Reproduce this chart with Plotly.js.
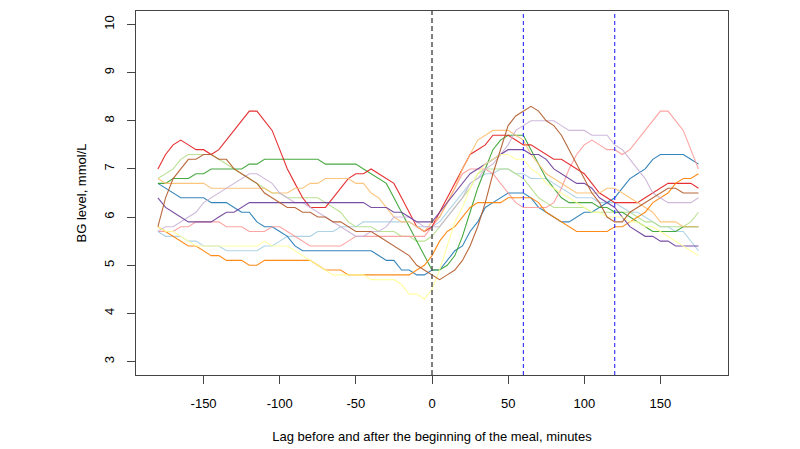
<!DOCTYPE html>
<html>
<head>
<meta charset="utf-8">
<script src="https://cdn.plot.ly/plotly-3.0.1.min.js"></script>
<style>html,body{margin:0;padding:0;background:#fff;}#chart{width:800px;height:449px;}</style>
</head>
<body>
<div id="chart"></div>
<script>
// Lag in minutes (every 5 minutes, from -180 to 175)
const lagMinutes = [
  -180,-175,-170,-165,-160,-155,-150,-145,-140,-135,-130,-125,
  -120,-115,-110,-105,-100,-95,-90,-85,-80,-75,-70,-65,
  -60,-55,-50,-45,-40,-35,-30,-25,-20,-15,-10,-5,
  0,5,10,15,20,25,30,35,40,45,50,55,
  60,65,70,75,80,85,90,95,100,105,110,115,
  120,125,130,135,140,145,150,155,160,165,170,175
];

// BG level series (mmol/L), one per meal
const bgLightBlue = [
  5.7,5.6,5.6,5.6,5.5,5.5,5.4,5.4,5.4,5.3,5.3,5.3,
  5.3,5.3,5.4,5.4,5.5,5.6,5.6,5.6,5.6,5.7,5.7,5.7,
  5.8,5.8,5.8,5.9,5.9,5.9,5.9,5.9,5.9,5.9,5.8,5.8,
  5.8,5.9,6.1,6.3,6.5,6.7,6.8,6.9,6.9,7.0,7.0,6.9,
  6.9,6.8,6.8,6.8,6.7,6.6,6.5,6.4,6.4,6.4,6.3,6.3,
  6.3,6.2,6.1,6.1,6.0,5.9,5.8,5.8,5.7,5.7,5.5,5.3
];
const bgBlue = [
  6.7,6.6,6.5,6.4,6.4,6.4,6.4,6.3,6.3,6.3,6.2,6.1,
  6.1,5.9,5.8,5.8,5.7,5.6,5.4,5.3,5.3,5.3,5.3,5.3,
  5.3,5.3,5.3,5.3,5.3,5.2,5.1,5.1,4.9,4.9,4.8,4.8,
  4.9,4.9,5.1,5.3,5.4,5.7,5.9,6.2,6.3,6.4,6.5,6.5,
  6.5,6.4,6.2,6.1,6.0,5.9,5.9,6.0,6.1,6.1,6.2,6.3,
  6.4,6.6,6.8,6.9,7.0,7.2,7.3,7.3,7.3,7.3,7.2,7.1
];
const bgLightGreen = [
  6.8,6.9,7.0,7.2,7.3,7.3,7.3,7.3,7.2,7.1,7.0,6.9,
  6.8,6.7,6.6,6.5,6.5,6.4,6.4,6.4,6.4,6.4,6.3,6.2,
  6.1,5.9,5.8,5.8,5.8,5.7,5.7,5.7,5.6,5.6,5.5,5.5,
  5.6,5.8,6.0,6.2,6.4,6.6,6.9,7.0,7.0,7.0,7.0,6.9,
  6.8,6.6,6.4,6.3,6.2,6.2,6.2,6.2,6.2,6.1,6.1,6.1,
  6.1,6.1,6.1,6.0,5.9,5.9,5.8,5.8,5.8,5.8,5.9,6.1
];
const bgGreen = [
  6.7,6.7,6.8,6.8,6.8,6.9,6.9,7.0,7.0,7.0,7.0,7.0,
  7.1,7.1,7.2,7.2,7.2,7.2,7.2,7.2,7.2,7.2,7.1,7.1,
  7.1,7.1,7.1,7.0,6.9,6.8,6.7,6.4,6.1,5.8,5.5,5.2,
  4.9,4.9,5.0,5.2,5.6,6.1,6.6,7.0,7.4,7.6,7.7,7.7,
  7.7,7.4,7.1,6.8,6.6,6.4,6.3,6.3,6.3,6.3,6.2,6.2,
  6.1,6.1,6.0,5.9,5.8,5.7,5.7,5.7,5.7,5.8,5.8,5.8
];
const bgPink = [
  5.7,5.7,5.7,5.8,5.8,5.9,5.9,5.9,5.9,5.8,5.8,5.8,
  5.7,5.7,5.7,5.8,5.8,5.7,5.6,5.5,5.4,5.4,5.4,5.4,
  5.4,5.5,5.6,5.6,5.6,5.6,5.6,5.6,5.6,5.6,5.6,5.6,
  5.8,6.0,6.3,6.6,6.9,7.0,7.0,7.0,6.9,6.7,6.5,6.3,
  6.2,6.2,6.2,6.2,6.3,6.6,7.0,7.3,7.5,7.6,7.5,7.4,
  7.4,7.3,7.4,7.6,7.8,8.0,8.2,8.2,8.0,7.8,7.4,7.0
];
const bgRed = [
  7.0,7.3,7.5,7.6,7.5,7.4,7.4,7.3,7.4,7.6,7.8,8.0,
  8.2,8.2,8.0,7.8,7.4,7.0,6.7,6.4,6.2,6.2,6.2,6.4,
  6.6,6.8,6.9,6.9,7.0,6.9,6.8,6.7,6.4,6.1,5.8,5.7,
  5.8,6.1,6.4,6.7,7.0,7.3,7.4,7.5,7.7,7.7,7.7,7.6,
  7.5,7.5,7.4,7.3,7.2,7.2,7.1,7.0,6.9,6.7,6.5,6.4,
  6.3,6.3,6.3,6.3,6.4,6.5,6.6,6.7,6.7,6.7,6.7,6.6
];
const bgLightOrange = [
  6.8,6.7,6.7,6.7,6.7,6.7,6.7,6.6,6.6,6.6,6.6,6.6,
  6.6,6.6,6.6,6.5,6.5,6.5,6.6,6.6,6.7,6.7,6.8,6.8,
  6.8,6.8,6.7,6.7,6.5,6.4,6.2,6.0,5.9,5.9,5.8,5.7,
  5.9,6.0,6.3,6.6,7.0,7.3,7.6,7.7,7.8,7.8,7.8,7.7,
  7.6,7.3,7.1,6.9,6.8,6.7,6.6,6.5,6.5,6.5,6.5,6.6,
  6.6,6.5,6.4,6.3,6.2,6.1,5.9,5.9,5.9,5.8,5.8,5.8
];
const bgOrange = [
  5.8,5.7,5.6,5.5,5.4,5.4,5.3,5.2,5.2,5.1,5.1,5.1,
  5.0,5.0,5.1,5.1,5.1,5.1,5.1,5.1,5.1,5.0,4.9,4.9,
  4.9,4.8,4.8,4.8,4.8,4.8,4.8,4.8,4.8,4.8,4.9,5.0,
  5.2,5.5,5.7,5.8,6.0,6.2,6.3,6.3,6.3,6.3,6.4,6.4,
  6.4,6.4,6.3,6.1,6.0,5.9,5.8,5.7,5.7,5.7,5.7,5.7,
  5.8,5.8,5.9,6.0,6.1,6.3,6.4,6.5,6.7,6.8,6.8,6.9
];
const bgLightPurple = [
  5.7,5.8,5.8,5.9,6.0,6.1,6.3,6.4,6.5,6.6,6.7,6.8,
  6.9,6.9,6.8,6.7,6.5,6.4,6.3,6.3,6.2,6.1,6.0,5.9,
  5.8,5.7,5.6,5.6,5.7,5.7,5.8,6.0,6.0,6.0,5.9,5.8,
  5.8,5.8,6.0,6.2,6.4,6.7,6.8,7.0,7.1,7.3,7.5,7.8,
  7.9,8.0,8.0,8.0,8.0,7.9,7.8,7.8,7.8,7.7,7.7,7.7,
  7.5,7.4,7.2,7.0,6.8,6.5,6.4,6.3,6.3,6.3,6.3,6.4
];
const bgPurple = [
  6.4,6.2,6.1,6.0,5.9,5.9,5.9,5.9,6.0,6.1,6.1,6.2,
  6.3,6.3,6.3,6.3,6.3,6.3,6.3,6.3,6.3,6.3,6.3,6.3,
  6.3,6.3,6.3,6.3,6.2,6.2,6.2,6.1,6.1,6.0,5.9,5.9,
  5.9,6.1,6.3,6.5,6.7,6.9,7.0,7.1,7.2,7.3,7.4,7.4,
  7.4,7.3,7.3,7.2,7.0,6.9,6.8,6.7,6.7,6.6,6.4,6.3,
  6.2,6.0,5.8,5.7,5.6,5.6,5.5,5.5,5.4,5.4,5.4,5.4
];
const bgYellow = [
  5.8,5.7,5.7,5.6,5.5,5.4,5.4,5.4,5.4,5.4,5.4,5.4,
  5.4,5.4,5.5,5.4,5.4,5.4,5.3,5.2,5.1,5.0,4.9,4.8,
  4.8,4.8,4.8,4.8,4.7,4.7,4.7,4.7,4.6,4.4,4.4,4.3,
  4.5,4.9,5.4,5.9,6.2,6.6,6.9,7.1,7.2,7.3,7.3,7.2,
  7.2,7.0,6.9,6.7,6.6,6.5,6.4,6.3,6.2,6.1,6.1,6.0,
  6.0,6.0,5.9,5.9,5.8,5.8,5.7,5.6,5.5,5.4,5.3,5.2
];
const bgBrown = [
  5.8,6.4,6.8,7.0,7.2,7.2,7.3,7.3,7.2,7.2,7.0,6.9,
  6.8,6.7,6.5,6.4,6.3,6.2,6.2,6.1,6.1,6.0,6.0,5.9,
  5.9,5.8,5.7,5.7,5.7,5.6,5.5,5.4,5.3,5.2,5.0,4.9,
  4.8,4.7,4.8,4.9,5.1,5.4,5.8,6.3,6.9,7.4,7.9,8.1,
  8.2,8.3,8.2,8.0,7.9,7.7,7.4,7.1,6.8,6.5,6.3,6.0,
  5.9,5.9,6.1,6.2,6.3,6.4,6.5,6.6,6.6,6.5,6.5,6.5
];

const seriesList = [bgLightBlue, bgBlue, bgLightGreen, bgGreen, bgPink, bgRed,
                    bgLightOrange, bgOrange, bgLightPurple, bgPurple, bgYellow, bgBrown];
const seriesColors = ['#A6CEE3','#1F78B4','#B2DF8A','#33A02C','#FB9A99','#E31A1C',
                      '#FDBF6F','#FF7F00','#CAB2D6','#6A3D9A','#FFFF99','#B15928'];

const xTicks = [-150,-100,-50,0,50,100,150];
const yTicks = [3,4,5,6,7,8,9,10];
const mealStart = 0;
const markers = [60,120];

const traces = seriesList.map((ys, i) => ({
  x: lagMinutes, y: ys, type: 'scatter', mode: 'lines',
  line: {color: seriesColors[i], width: 1.1},
  opacity: 0.9,
  hoverinfo: 'skip', showlegend: false
}));

const shapes = [
  {type:'line', xref:'x', yref:'paper', x0:mealStart, x1:mealStart, y0:0, y1:1,
   line:{color:'#555555', width:1.5, dash:'5px,3px'}},
  ...markers.map(m => ({type:'line', xref:'x', yref:'paper', x0:m, x1:m, y0:0, y1:1,
   line:{color:'#2a2aff', width:1.1, dash:'4px,3px'}}))
];

const font = {family:'Liberation Sans, Arial, sans-serif', size:13, color:'#000'};

const layout = {
  width:800, height:449,
  margin:{l:136, r:72, t:11, b:74},
  paper_bgcolor:'#fff', plot_bgcolor:'#fff',
  font: font,
  showlegend:false,
  xaxis:{
    range:[-194.4,194.4], tickvals:xTicks, ticktext:xTicks.map(String),
    showgrid:false, zeroline:false, showline:true, mirror:true,
    linecolor:'#444', linewidth:1, ticks:'outside', ticklen:8, tickcolor:'#444',
    ticklabelstandoff:8, tickfont:font,
    title:{text:'Lag before and after the beginning of the meal, minutes', font:font, standoff:22}
  },
  yaxis:{
    range:[2.72,10.28], tickvals:yTicks, ticktext:yTicks.map(String),
    showgrid:false, zeroline:false, showline:true, mirror:true,
    linecolor:'#444', linewidth:1, ticks:'outside', ticklen:8, tickcolor:'#444',
    tickangle:-90, ticklabelstandoff:8, tickfont:font,
    title:{text:'BG level, mmol/L', font:font, standoff:12}
  },
  shapes: shapes
};

Plotly.newPlot('chart', traces, layout, {staticPlot:true, displayModeBar:false});
</script>
</body>
</html>
